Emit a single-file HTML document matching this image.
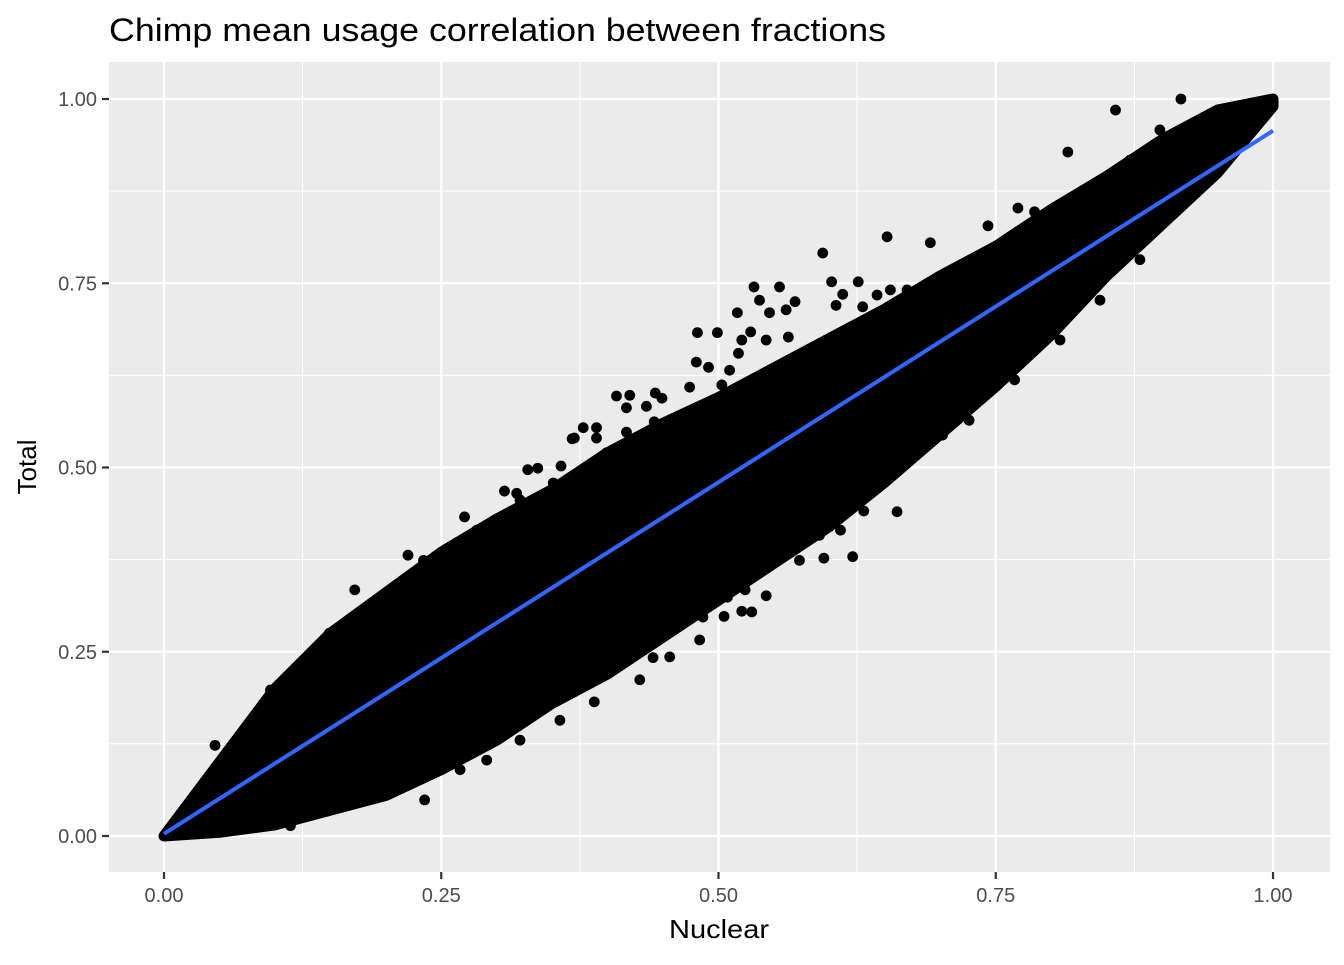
<!DOCTYPE html>
<html><head><meta charset="utf-8"><style>
body{margin:0;background:#fff;}
svg text{font-family:"Liberation Sans",Arial,sans-serif;}
</style></head><body>
<svg id="chart" width="1344" height="960" xmlns="http://www.w3.org/2000/svg">
<text x="109" y="41" font-size="32" textLength="777" lengthAdjust="spacingAndGlyphs" fill="#000">Chimp mean usage correlation between fractions</text>
<rect x="109" y="62" width="1221" height="810" fill="#ebebeb"/>
<g id="grid"></g>
<g id="marks"></g>
<g id="axes"></g>
<text x="669" y="938" font-size="26" textLength="100" lengthAdjust="spacingAndGlyphs">Nuclear</text>
<text transform="translate(36,467) rotate(-90)" font-size="26" text-anchor="middle">Total</text>
</svg>
<script>
const xTicks=[0,0.25,0.5,0.75,1];
const yTicks=[0,0.25,0.5,0.75,1];
const tickLabels=["0.00","0.25","0.50","0.75","1.00"];
const coreUpperX=[0,0.02,0.05,0.1,0.15,0.2,0.25,0.3,0.35,0.4,0.45,0.5,0.55,0.6,0.65,0.7,0.75,0.8,0.85,0.9,0.95,1];
const coreUpperY=[0,0.04,0.1,0.2,0.275,0.33,0.385,0.43,0.47,0.52,0.56,0.595,0.635,0.675,0.715,0.76,0.8,0.85,0.895,0.945,0.985,1.0];
const coreLowerX=[1,0.95,0.9,0.85,0.8,0.75,0.7,0.65,0.6,0.55,0.5,0.45,0.4,0.35,0.3,0.25,0.2,0.15,0.1,0.05,0];
const coreLowerY=[0.99,0.9,0.83,0.76,0.68,0.61,0.545,0.48,0.42,0.37,0.32,0.27,0.22,0.18,0.13,0.09,0.055,0.035,0.015,0.005,0];
const ptX=[0.858,0.917,0.594,0.652,0.555,0.499,0.42,0.39,0.337,0.271,0.149,0.621,0.661,0.53,0.505,0.456,0.388,0.291,0.235,0.195,0.114,0.083,0.757,0.785,0.743,0.691,0.77,0.72,0.569,0.521,0.449,0.37,0.321,0.22,0.172,0.096,0.046,0.702,0.726,0.767,0.808,0.844,0.88,0.943,0.61,0.573,0.543,0.483,0.429,0.357,0.321,0.267,0.159,0.815,0.871,0.898,
0.307,0.328,0.358,0.368,0.378,0.39,0.408,0.417,0.435,0.443,0.442,0.417,0.399,0.381,0.351,0.318,0.282,0.234,0.481,0.48,0.491,0.474,0.461,0.503,0.517,0.532,0.537,0.546,0.561,0.529,0.543,0.518,0.51,0.563,0.602,0.612,0.606,0.626,0.63,0.643,0.655,0.67,
0.595,0.546,0.521,0.486,0.45,0.441,0.428,0.41,0.395,0.568,0.591,0.631,0.652,0.634,0.612,0.58,0.53,0.524,0.508,0.492,0.468,0.673,0.639];
const ptY=[0.985,1.0,0.791,0.813,0.745,0.683,0.598,0.554,0.499,0.433,0.275,0.379,0.44,0.304,0.298,0.243,0.182,0.103,0.049,0.056,0.014,0.022,0.777,0.847,0.828,0.805,0.852,0.722,0.725,0.673,0.594,0.54,0.456,0.381,0.334,0.198,0.123,0.544,0.564,0.619,0.673,0.727,0.782,0.89,0.415,0.374,0.326,0.266,0.212,0.157,0.13,0.09,0.056,0.928,0.917,0.958,
0.468,0.497,0.502,0.539,0.554,0.54,0.597,0.581,0.583,0.601,0.562,0.548,0.52,0.493,0.479,0.465,0.415,0.374,0.683,0.643,0.636,0.609,0.562,0.612,0.71,0.745,0.727,0.71,0.714,0.684,0.673,0.655,0.632,0.677,0.752,0.735,0.72,0.752,0.718,0.734,0.741,0.741,
0.377,0.372,0.305,0.297,0.289,0.242,0.255,0.263,0.216,0.398,0.408,0.441,0.513,0.467,0.453,0.418,0.361,0.334,0.324,0.343,0.309,0.537,0.496];
const fitX=[0,1];
const fitY=[0.003,0.957];
const NS="http://www.w3.org/2000/svg";
const sx=v=>164+v*1109, sy=v=>836-v*737;
function mk(t,a,p){const e=document.createElementNS(NS,t);for(const k in a)e.setAttribute(k,a[k]);p.appendChild(e);return e;}
const grid=document.getElementById('grid'),marks=document.getElementById('marks'),axes=document.getElementById('axes');
for(let i=0;i<xTicks.length-1;i++){
 const mx=(xTicks[i]+xTicks[i+1])/2,my=(yTicks[i]+yTicks[i+1])/2;
 let l=mk('line',{x1:sx(mx),x2:sx(mx),y1:62,y2:872,stroke:'#fff','stroke-width':1.1},grid);
 
 l=mk('line',{x1:109,x2:1330,y1:sy(my),y2:sy(my),stroke:'#fff','stroke-width':1.1},grid);
 
}
xTicks.forEach((v,i)=>{
 let l=mk('line',{x1:sx(v),x2:sx(v),y1:62,y2:872,stroke:'#fff','stroke-width':2.2},grid);
 
 l=mk('line',{x1:sx(v),x2:sx(v),y1:872,y2:879,stroke:'#333','stroke-width':2.2},axes);
 
 const t=mk('text',{x:sx(v),y:902,'font-size':20,fill:'#4d4d4d','text-anchor':'middle'},axes);t.textContent=tickLabels[i];
 
});
yTicks.forEach((v,i)=>{
 let l=mk('line',{x1:109,x2:1330,y1:sy(v),y2:sy(v),stroke:'#fff','stroke-width':2.2},grid);
 
 l=mk('line',{x1:102,x2:109,y1:sy(v),y2:sy(v),stroke:'#333','stroke-width':2.2},axes);
 
 const t=mk('text',{x:97,y:sy(v)+7,'font-size':20,fill:'#4d4d4d','text-anchor':'end'},axes);t.textContent=tickLabels[i];
 
});
let pts=coreUpperX.map((x,i)=>sx(x)+','+sy(coreUpperY[i])).concat(coreLowerX.map((x,i)=>sx(x)+','+sy(coreLowerY[i]))).join(' ');
const core=mk('polygon',{points:pts,fill:'#000',stroke:'#000','stroke-width':11,'stroke-linejoin':'round'},marks);

ptX.forEach((x,i)=>{
 const c=mk('circle',{cx:sx(x),cy:sy(ptY[i]),r:5.4,fill:'#000'},marks);
 
});
const fit=mk('line',{x1:sx(fitX[0]),y1:sy(fitY[0]),x2:sx(fitX[1]),y2:sy(fitY[1]),stroke:'#3366ff','stroke-width':4},marks);

</script>
</body></html>
